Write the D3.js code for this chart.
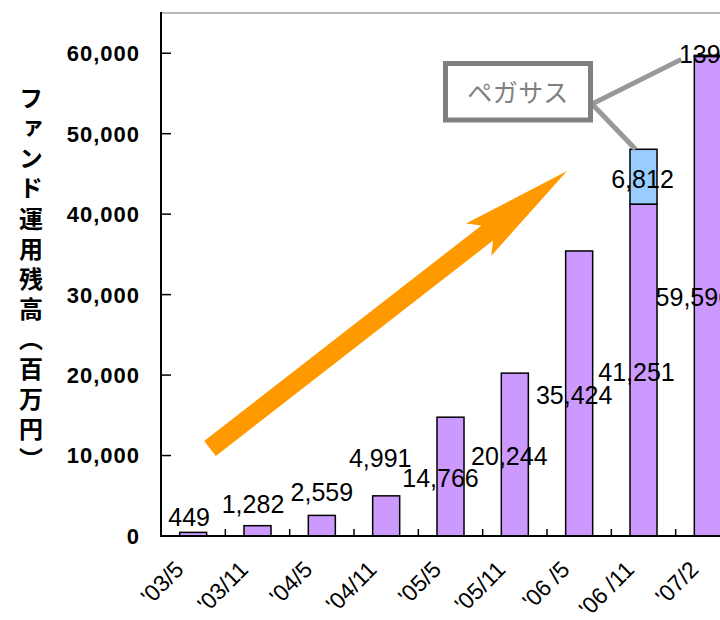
<!DOCTYPE html>
<html>
<head>
<meta charset="utf-8">
<script src="https://cdn.jsdelivr.net/npm/d3@7"></script>
<style>
  html, body { margin: 0; padding: 0; background: #fff; }
  svg { display: block; }
</style>
</head>
<body>
<svg id="chart" width="720" height="620"></svg>
<script>
// Fund balances (million yen) per reporting month
const periods = ["'03/5", "'03/11", "'04/5", "'04/11", "'05/5", "'05/11", "'06 /5", "'06 /11", "'07/2"];
const coreBalance = [449, 1282, 2559, 4991, 14766, 20244, 35424, 41251, 59596];
const pegasusBalance = [0, 0, 0, 0, 0, 0, 0, 6812, 139];
const yTicks = [0, 10000, 20000, 30000, 40000, 50000, 60000];
const yTitle = "ファンド運用残高（百万円）";
const calloutText = "ペガサス";

const svg = d3.select("#chart");
const numFont = "'Liberation Sans Narrow', 'Arial Narrow', 'Liberation Sans', sans-serif";
const jpFont = "'Noto Sans CJK JP', 'Noto Sans', sans-serif";

const left = 161, bottom = 536;
const x = d3.scaleBand().domain(periods).range([left, 740]).paddingInner(0.58).paddingOuter(0.29);
const y = d3.scaleLinear().domain([0, 65000]).range([bottom, 13]);
const step = x.step();

const rows = periods.map((p, i) => ({ p, core: coreBalance[i], peg: pegasusBalance[i] }));

// plot frame: grey top edge
svg.append("line").attr("x1", left).attr("x2", 720).attr("y1", y(65000)).attr("y2", y(65000))
  .attr("stroke", "#a0a0a0").attr("stroke-width", 1.5);

// bars: core fund (purple) with Pegasus stacked on top (blue)
const g = svg.append("g");
g.selectAll("rect.core").data(rows).join("rect").attr("class", "core")
  .attr("x", d => x(d.p)).attr("width", x.bandwidth())
  .attr("y", d => y(d.core)).attr("height", d => y(0) - y(d.core))
  .attr("fill", "#cc99ff").attr("stroke", "#000").attr("stroke-width", 1.5);
g.selectAll("rect.peg").data(rows.filter(d => d.peg > 0)).join("rect").attr("class", "peg")
  .attr("x", d => x(d.p)).attr("width", x.bandwidth())
  .attr("y", d => y(d.core + d.peg)).attr("height", d => y(d.core) - y(d.core + d.peg))
  .attr("fill", "#99ccff").attr("stroke", "#000").attr("stroke-width", 1.5);

// axes
svg.append("line").attr("x1", left).attr("x2", left).attr("y1", y(65000) - 1).attr("y2", bottom + 1)
  .attr("stroke", "#000").attr("stroke-width", 2);
svg.append("line").attr("x1", left).attr("x2", 720).attr("y1", bottom).attr("y2", bottom)
  .attr("stroke", "#000").attr("stroke-width", 2);

// y ticks (inside) and bold labels
const yt = svg.append("g");
yt.selectAll("line").data(yTicks.slice(1)).join("line")
  .attr("x1", left).attr("x2", left + 10).attr("y1", d => y(d)).attr("y2", d => y(d))
  .attr("stroke", "#000").attr("stroke-width", 1.5);
yt.selectAll("text").data(yTicks).join("text")
  .attr("x", 140).attr("y", d => y(d)).attr("dy", "0.36em")
  .attr("text-anchor", "end").attr("font-family", "'Liberation Sans', Arial, sans-serif")
  .attr("font-weight", "bold").attr("font-size", 22).attr("letter-spacing", 1)
  .text(d => d3.format(",")(d));

// x ticks between categories (inside)
const xt = svg.append("g");
xt.selectAll("line").data(periods.slice(1)).join("line")
  .attr("x1", d => x(d) - step * 0.29).attr("x2", d => x(d) - step * 0.29)
  .attr("y1", bottom).attr("y2", bottom - 7)
  .attr("stroke", "#000").attr("stroke-width", 1.5);

// rotated category labels
xt.selectAll("text").data(periods).join("text")
  .attr("transform", d => `translate(${x(d) + x.bandwidth() / 2 - 8},${bottom + 35}) rotate(-45)`)
  .attr("text-anchor", "end").attr("font-family", numFont).attr("font-size", 23)
  .text(d => d);

// value labels, nudged around each bar
const coreNudge = [[-4, -15], [-4.5, -21], [0, -23], [-6, -38], [-10, 61], [-5.5, 83], [-5, 144], [-7, 168], [-14, 241]];
const pegNudge = { 7: [-1, 3], 8: [-8, -2] };
const lab = svg.append("g").attr("font-family", numFont).attr("font-size", 25).attr("text-anchor", "middle");
rows.forEach((d, i) => {
  const cx = x(d.p) + x.bandwidth() / 2;
  lab.append("text").attr("x", cx + coreNudge[i][0]).attr("y", y(d.core) + coreNudge[i][1])
    .attr("dy", "0.35em").text(d3.format(",")(d.core));
  if (d.peg > 0) {
    const n = pegNudge[i];
    lab.append("text").attr("x", cx + n[0]).attr("y", (y(d.core) + y(d.core + d.peg)) / 2 + n[1])
      .attr("dy", "0.35em").text(d3.format(",")(d.peg));
  }
});

// growth arrow
(function () {
  const tail = [210, 448.5], tip = [567, 171];
  const shaftW = 19, headW = 41, headL = 112, notch = 11;
  const dx = tip[0] - tail[0], dy = tip[1] - tail[1], len = Math.hypot(dx, dy);
  const ux = dx / len, uy = dy / len, nx = -uy, ny = ux;
  const base = [tip[0] - ux * headL, tip[1] - uy * headL];
  const nb = [base[0] + ux * notch, base[1] + uy * notch];
  const pt = (p, s) => [p[0] + nx * s, p[1] + ny * s];
  const pts = [pt(tail, -shaftW / 2), pt(nb, -shaftW / 2), pt(base, -headW / 2), tip,
               pt(base, headW / 2), pt(nb, shaftW / 2), pt(tail, shaftW / 2)];
  svg.append("polygon").attr("points", pts.map(p => p.join(",")).join(" ")).attr("fill", "#ff9900");
})();

// Pegasus callout with leader lines to the blue segments
const leaderFrom = [592, 104];
const c7 = x(periods[7]) + x.bandwidth() / 2, c8 = x(periods[8]);
svg.append("line").attr("x1", leaderFrom[0]).attr("y1", leaderFrom[1]).attr("x2", c7 - 8).attr("y2", y(48063))
  .attr("stroke", "#999").attr("stroke-width", 5);
svg.append("line").attr("x1", leaderFrom[0]).attr("y1", leaderFrom[1]).attr("x2", c8 - 13).attr("y2", y(59735) + 4)
  .attr("stroke", "#999").attr("stroke-width", 5);
svg.append("rect").attr("x", 445.5).attr("y", 63.5).attr("width", 145).attr("height", 56.5)
  .attr("fill", "#fff").attr("stroke", "#808080").attr("stroke-width", 5);
svg.append("text").attr("x", 518).attr("y", 93).attr("dy", "0.35em").attr("text-anchor", "middle")
  .attr("font-family", jpFont).attr("font-size", 25).attr("letter-spacing", 0.5).attr("fill", "#808080").text(calloutText);

// vertical axis title
svg.append("text").attr("x", 31).attr("y", 86)
  .attr("writing-mode", "vertical-rl").attr("font-family", jpFont).attr("font-weight", "bold")
  .attr("font-size", 24).attr("letter-spacing", 6.1).text(yTitle);
</script>
</body>
</html>
